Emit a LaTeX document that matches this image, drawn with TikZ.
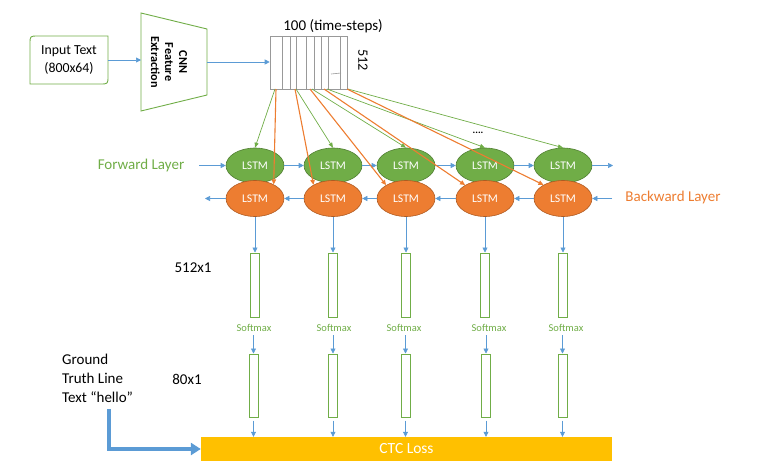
\documentclass[tikz,border=0pt]{standalone}
\usepackage{fontspec}
\setmainfont{Carlito}
\usetikzlibrary{shapes.geometric,arrows.meta}
\definecolor{lgreen}{HTML}{70AD47}
\definecolor{dgreen}{HTML}{507E32}
\definecolor{lorange}{HTML}{ED7D31}
\definecolor{dorange}{HTML}{AE5A21}
\definecolor{lblue}{HTML}{5B9BD5}
\definecolor{gold}{HTML}{FFC000}
\begin{document}
\begin{tikzpicture}[x=1pt,y=-1pt,
  fs/.style={font=\fontsize{#1}{#1}\selectfont},
  blu/.style={draw=lblue, line width=0.6pt, -{Triangle[length=5pt,width=5pt]}},
  fwd/.style={ellipse, fill=lgreen, draw=dgreen, line width=0.6pt, minimum width=58pt, minimum height=35pt, inner sep=0pt, text=white, font=\fontsize{11.7}{12}\selectfont},
  bwd/.style={ellipse, fill=lorange, draw=dorange, line width=0.6pt, minimum width=58pt, minimum height=36pt, inner sep=0pt, text=white, font=\fontsize{11.7}{12}\selectfont},
  barbox/.style={draw=lgreen, line width=1pt, minimum width=9pt, inner sep=0pt},
  gline/.style={draw=lgreen, line width=0.7pt, -{Triangle[length=5pt,width=4pt]}},
  oline/.style={draw=lorange, line width=1.1pt, -{Triangle[length=5pt,width=4.5pt]}},
  fmline/.style={draw=gray!80, line width=0.6pt}
]
\useasboundingbox (0,0) rectangle (758,466);

% input text
\draw[lgreen, line width=0.9pt] (30,84) -- (30,44) .. controls (30,36) .. (38,36) -- (108,36) -- (108,76) .. controls (108,84) .. (100,84) -- cycle;
\node[minimum width=78pt, minimum height=48pt, inner sep=0pt, align=center, font=\fontsize{13.8}{17.5}\selectfont] (inp) at (69,60) {Input Text\\(800x64)};

% CNN
\draw[lgreen, line width=0.9pt] (141,13) -- (207,29) -- (207,95) -- (141,111) -- cycle;
\coordinate (cnnL) at (141,60);
\coordinate (cnnR) at (207,62);
\node[rotate=-90, align=center, font=\bfseries\fontsize{12.2}{14}\selectfont] (cnn) at (169,62) {CNN\\Feature\\Extraction};

% feature map
\node[draw=gray!80, line width=0.6pt, minimum width=77pt, minimum height=53pt, inner sep=0pt] (fm) at (308.5,62.5) {};
\foreach \x in {282,290,296,306,314,321,328,340} \draw[fmline] (\x,36) -- (\x,89);
\draw[fmline] (331,74) -- (341,73);
\node[fs=15] (ts) at (333,26) {100 (time-steps)};
\node[fs=14.3, rotate=-90] (dim) at (363,60) {512};

\draw[blu] (inp.east) -- (cnnL);
\draw[blu] (cnnR) -- (fm.west |- cnnR);

% LSTM cells
\foreach \i/\x in {1/255,2/333,3/406,4/485,5/563} {
  \node[fwd] (f\i) at (\x,165.5) {LSTM};
}
\foreach \i/\x in {1/255,2/333,3/406,4/485,5/563} {
  \node[bwd] (b\i) at (\x,198.5) {LSTM};
}

\node[fs=15, text=lgreen] (fl) at (141,165) {Forward Layer};
\node[fs=15, text=lorange] (bl) at (673,197) {Backward Layer};
\node[fs=15, font=\bfseries] (dots) at (478,133) {....};

% forward / backward arrows
\coordinate (fin) at (199,165.5);
\coordinate (fout) at (613,165.5);
\coordinate (bin) at (612,198.5);
\coordinate (bout) at (205,198.5);
\draw[blu] (fin) -- (f1);
\draw[blu] (f1) -- (f2);
\draw[blu] (f2) -- (f3);
\draw[blu] (f3) -- (f4);
\draw[blu] (f4) -- (f5);
\draw[blu] (f5) -- (fout);
\draw[blu] (bin) -- (b5);
\draw[blu] (b5) -- (b4);
\draw[blu] (b4) -- (b3);
\draw[blu] (b3) -- (b2);
\draw[blu] (b2) -- (b1);
\draw[blu] (b1) -- (bout);

% feature map to LSTM connectors
\coordinate (g1) at (275,89);
\coordinate (g2) at (296,89);
\coordinate (g3) at (312,89);
\coordinate (g4) at (327,89);
\coordinate (g5) at (348,89);
\coordinate (o1) at (276,89);
\coordinate (o2) at (295,89);
\coordinate (o3) at (310,89);
\coordinate (o4) at (324,89);
\coordinate (o5) at (347,89);
\draw[gline] (g1) -- (f1.north);
\draw[gline] (g2) -- (f2.north);
\draw[gline] (g3) -- (f3.north);
\draw[gline] (g4) -- (f4.north);
\draw[gline] (g5) -- (f5.north);
\draw[oline] (o1) -- (b1.37);
\draw[oline] (o2) -- (b2.145);
\draw[oline] (o3) -- (b3.146);
\draw[oline] (o4) -- (b4.146);
\draw[oline] (o5) -- (b5.145);

% 512x1 bars, softmax, 80x1 bars
\node[fs=15] (l512) at (193,268) {512x1};
\node[fs=15] (l80) at (187,379) {80x1};
\foreach \i/\x/\sx/\vx in {1/255/254/253.5,2/333/334/333,3/406/404/405.5,4/485/489/486,5/563/566/562.5} {
  \node[barbox, minimum height=64pt] (u\i) at (\x,285) {};
  \node[fs=10.5, text=lgreen] (s\i) at (\sx,328) {Softmax};
  \node[barbox, minimum height=63pt] (v\i) at (\vx,385.5) {};
}
\node[fill=gold, minimum width=411pt, minimum height=24pt, inner sep=0pt, text=white, fs=15.5] (ctc) at (406.5,449) {CTC Loss};

\foreach \i in {1,...,5} {
  \draw[blu] (b\i.south) -- (u\i.north);
  \draw[blu] (s\i.south -| v\i.north) -- (v\i.north);
  \draw[blu] ([yshift=-3pt]v\i.south) -- (v\i.south |- ctc.north);
}

% ground truth
\node[align=left, anchor=west, inner sep=0pt, font=\fontsize{15}{19}\selectfont] (gt) at (62,378) {Ground\\Truth Line\\Text “hello”};
\coordinate (gts) at (109,409);
\draw[lblue, line width=3.5pt, -{Triangle[length=10pt,width=12pt]}] (gts) |- (ctc.west);
\end{tikzpicture}
\end{document}
